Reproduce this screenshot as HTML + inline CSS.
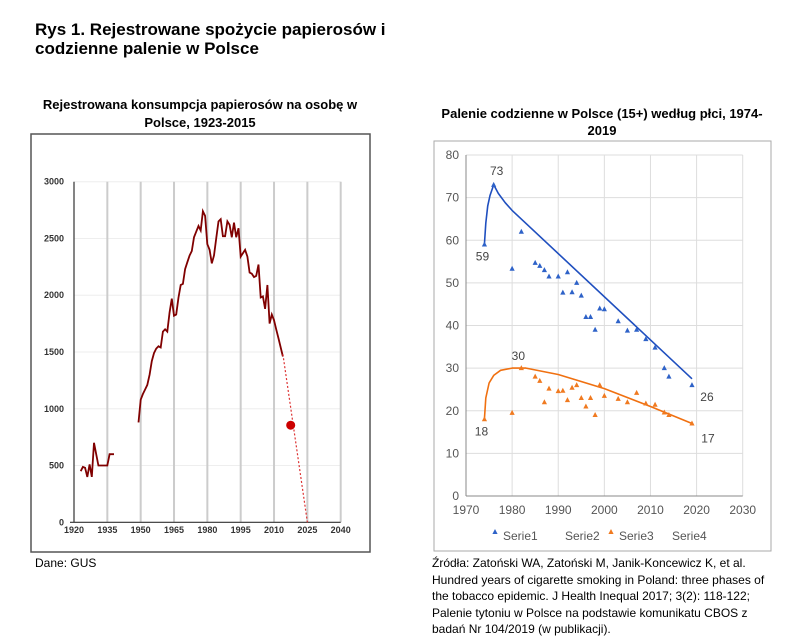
<!DOCTYPE html>
<html><head><meta charset="utf-8">
<style>
body{margin:0;width:800px;height:643px;background:#fff;font-family:"Liberation Sans",sans-serif;position:relative;overflow:hidden}
svg{position:absolute;left:0;top:0}
</style></head>
<body>
<svg id="s" width="800" height="643">
<text x="35" y="35" font-size="17" font-weight="bold">Rys 1. Rejestrowane spożycie papierosów i</text>
<text x="35" y="54" font-size="17" font-weight="bold">codzienne palenie w Polsce</text>
<text x="200" y="109" font-size="13" font-weight="bold" text-anchor="middle">Rejestrowana konsumpcja papierosów na osobę w</text>
<text x="200" y="127" font-size="13" font-weight="bold" text-anchor="middle">Polsce, 1923-2015</text>
<rect x="31" y="134" width="339" height="418" fill="none" stroke="#555" stroke-width="1.5"/>
<text x="602" y="118" font-size="13" font-weight="bold" text-anchor="middle">Palenie codzienne w Polsce (15+) według płci, 1974-</text>
<text x="602" y="135" font-size="13" font-weight="bold" text-anchor="middle">2019</text>
<rect x="434" y="141" width="337" height="410" fill="none" stroke="#aaa" stroke-width="1"/>
<g id="L"></g><g id="R"></g>
<text x="35" y="567" font-size="12">Dane: GUS</text>
<g font-size="12">
<text x="432" y="567">Źródła: Zatoński WA, Zatoński M, Janik-Koncewicz K, et al.</text>
<text x="432" y="584">Hundred years of cigarette smoking in Poland: three phases of</text>
<text x="432" y="600">the tobacco epidemic. J Health Inequal 2017; 3(2): 118-122;</text>
<text x="432" y="617">Palenie tytoniu w Polsce na podstawie komunikatu CBOS z</text>
<text x="432" y="633">badań Nr 104/2019 (w publikacji).</text>
</g>
</svg>
<script>
const prewarYears=[1923,1924,1925,1926,1927,1928,1929,1930,1931,1932,1933,1934,1935,1936,1937,1938];
const prewarVals=[450,488,480,400,510,400,700,600,500,500,500,500,500,600,600,600];
const postwarYears=[];for(let y=1949;y<=2014;y++)postwarYears.push(y);
const postwarVals=[880,1080,1130,1170,1210,1300,1420,1490,1530,1550,1540,1680,1700,1680,1850,1970,1820,1830,1980,2090,2100,2230,2290,2350,2390,2510,2560,2610,2570,2740,2700,2450,2400,2280,2350,2500,2650,2670,2520,2520,2650,2620,2510,2640,2510,2590,2340,2370,2400,2340,2200,2190,2160,2170,2270,1980,1990,1880,2090,1750,1830,1780,1700,1620,1540,1460];
const trendYears=[2014,2025];const trendVals=[1480,0];
const dotYear=[2017.5];const dotVal=[855];
const leftXTicks=[1920,1935,1950,1965,1980,1995,2010,2025,2040];
const leftYTicks=[0,500,1000,1500,2000,2500,3000];

const s1Years=[1974,1976,1980,1982,1985,1986,1987,1988,1990,1991,1992,1993,1994,1995,1996,1997,1998,1999,2000,2003,2005,2007,2009,2011,2013,2014,2019];
const s1Vals=[59,73,53.3,62,54.7,54,53,51.5,51.5,47.7,52.5,47.8,50,47,42,42,39,44,43.8,41,38.8,39,36.8,34.8,30,28,26];
const s1FitYears=[1974,1974.3,1974.7,1975.2,1976,1977,1978.5,1980,2019];
const s1FitVals=[59,64,68,70.5,73,71,68.8,67,27.5];
const s3Years=[1974,1980,1982,1985,1986,1987,1988,1990,1991,1992,1993,1994,1995,1996,1997,1998,1999,2000,2003,2005,2007,2009,2011,2013,2014,2019];
const s3Vals=[18,19.5,30,28,27,22,25.2,24.6,24.7,22.5,25.4,26,23,21,23,19,26,23.5,22.8,22,24.2,21.7,21.4,19.6,19,17];
const s3FitYears=[1974,1974.3,1975,1976,1977.5,1980,1983,1990,2000,2010,2019];
const s3FitVals=[18,23,26.5,28.3,29.5,30,30,28.5,25.2,21,17];
const rightXTicks=[1970,1980,1990,2000,2010,2020,2030];
const rightYTicks=[0,10,20,30,40,50,60,70,80];
const labelYears=[1976,1974,2019,1982,1974,2019];
const labelVals=[73,59,26,30,18,17];

const NS="http://www.w3.org/2000/svg";
function mk(p,t,a){const e=document.createElementNS(NS,t);for(const k in a)e.setAttribute(k,a[k]);p.appendChild(e);return e;}
// left chart
const L=document.getElementById('L');
const lx=y=>74+(y-1920)*(340.7-74)/120, ly=v=>522.3-v*(522.3-181.7)/3000;
leftYTicks.forEach(t=>{const g=mk(L,'line',{x1:74,x2:340.7,y1:ly(t),y2:ly(t),stroke:'#eee','stroke-width':1});

const tx=mk(L,'text',{x:64,y:ly(t)+3,'font-size':9,'font-weight':'bold','text-anchor':'end',fill:'#333'});tx.textContent=t;
});
leftXTicks.forEach((t,i)=>{if(i>0){const g=mk(L,'line',{x1:lx(t),x2:lx(t),y1:181.7,y2:522.3,stroke:'#ccc','stroke-width':2});
}
const tx=mk(L,'text',{x:lx(t),y:533,'font-size':9,'font-weight':'bold','text-anchor':'middle',fill:'#333'});tx.textContent=t;
});
let a=mk(L,'line',{x1:74,x2:74,y1:181.7,y2:522.3,stroke:'#333','stroke-width':1.2});
a=mk(L,'line',{x1:70,x2:340.7,y1:522.3,y2:522.3,stroke:'#333','stroke-width':1.2});
function pl(par,xs,vs,fx,fy){return xs.map((x,i)=>fx(x).toFixed(1)+','+fy(vs[i]).toFixed(1)).join(' ');}
let p=mk(L,'polyline',{points:pl(L,prewarYears,prewarVals,lx,ly),fill:'none',stroke:'#800000','stroke-width':1.8});

p=mk(L,'polyline',{points:pl(L,postwarYears,postwarVals,lx,ly),fill:'none',stroke:'#800000','stroke-width':1.8});

p=mk(L,'polyline',{points:pl(L,trendYears,trendVals,lx,ly),fill:'none',stroke:'#d33','stroke-width':1.2,'stroke-dasharray':'2,2'});

p=mk(L,'circle',{cx:lx(dotYear[0]),cy:ly(dotVal[0]),r:4.5,fill:'#c00'});

// right chart
const R=document.getElementById('R');
const rx=y=>466+(y-1970)*(742.7-466)/60, ry=v=>496-v*(496-155)/80;
rightYTicks.forEach(t=>{if(t>0){const g=mk(R,'line',{x1:466,x2:742.7,y1:ry(t),y2:ry(t),stroke:'#ddd','stroke-width':1});
}
const tx=mk(R,'text',{x:459,y:ry(t)+4,'font-size':12,'text-anchor':'end',fill:'#555'});tx.textContent=t;
});
rightXTicks.forEach((t,i)=>{if(i>0){const g=mk(R,'line',{x1:rx(t),x2:rx(t),y1:155,y2:496,stroke:'#ddd','stroke-width':1});
}
const tx=mk(R,'text',{x:rx(t),y:514,'font-size':12,'text-anchor':'middle',fill:'#555'});tx.textContent=t;
});
a=mk(R,'line',{x1:466,x2:466,y1:155,y2:496,stroke:'#888','stroke-width':1});
a=mk(R,'line',{x1:466,x2:742.7,y1:496,y2:496,stroke:'#888','stroke-width':1});
p=mk(R,'polyline',{points:pl(R,s1FitYears,s1FitVals,rx,ry),fill:'none',stroke:'#1f4fbf','stroke-width':1.6,'stroke-linejoin':'round'});

p=mk(R,'polyline',{points:pl(R,s3FitYears,s3FitVals,rx,ry),fill:'none',stroke:'#f07010','stroke-width':1.6,'stroke-linejoin':'round'});

function tri(cx,cy,c){const t=mk(R,'polygon',{points:`${cx},${cy-3} ${cx-2.6},${cy+2} ${cx+2.6},${cy+2}`,fill:c});return t;}
s1Years.forEach((y,i)=>{const t=tri(rx(y),ry(s1Vals[i]),'#2e62c8');});
s3Years.forEach((y,i)=>{const t=tri(rx(y),ry(s3Vals[i]),'#f07a20');});
const offs=[[3,-10],[-2,16],[15,16],[-3,-8],[-3,16],[16,19]];
labelYears.forEach((y,i)=>{const t=mk(R,'text',{x:rx(y)+offs[i][0],y:ry(labelVals[i])+offs[i][1],'font-size':12,'text-anchor':'middle',fill:'#444'});t.textContent=labelVals[i];
});
// legend
const lg=[['Serie1',503,'#2e62c8'],['Serie2',565,null],['Serie3',619,'#f07a20'],['Serie4',672,null]];
lg.forEach(([n,x,c])=>{if(c){const t=tri(x-8,532,c);}
const t=mk(R,'text',{x:x,y:540,'font-size':12,fill:'#555'});t.textContent=n;
});
</script>
</body></html>
